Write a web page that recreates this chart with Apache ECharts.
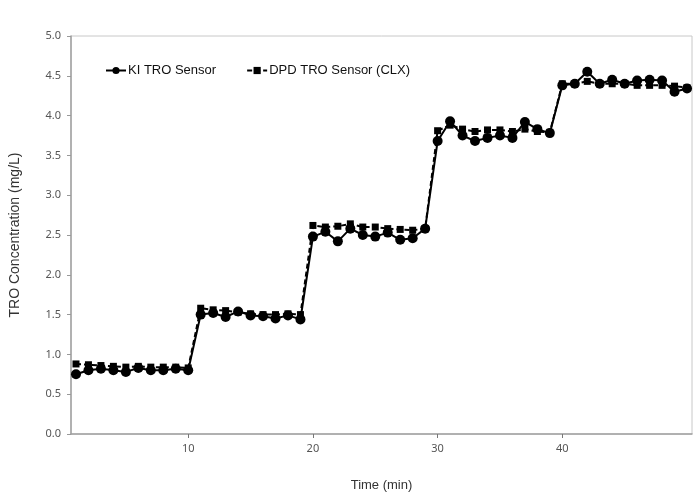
<!DOCTYPE html>
<html>
<head>
<meta charset="utf-8">
<script src="https://cdn.jsdelivr.net/npm/echarts@6/dist/echarts.min.js"></script>
<style>
  html, body { margin: 0; padding: 0; background: #fff; }
  #chart { width: 698px; height: 493px; }
</style>
</head>
<body>
<div id="chart"></div>
<script>
// 시간 (min)
var times = [1, 2, 3, 4, 5, 6, 7, 8, 9, 10,
  11, 12, 13, 14, 15, 16, 17, 18, 19,
  20, 21, 22, 23, 24, 25, 26, 27, 28, 29,
  30, 31, 32, 33, 34, 35, 36, 37, 38, 39,
  40, 41, 42, 43, 44, 45, 46, 47, 48, 49, 50]

// KI TRO Sensor
var kiValues = [0.75, 0.80, 0.82, 0.80, 0.78, 0.83, 0.80, 0.80, 0.82, 0.80,
  1.50, 1.52, 1.47, 1.54, 1.49, 1.48, 1.45, 1.49, 1.44,
  2.48, 2.54, 2.42, 2.58, 2.50, 2.48, 2.53, 2.44, 2.46, 2.58,
  3.68, 3.93, 3.75, 3.68, 3.72, 3.75, 3.72, 3.92, 3.83, 3.78,
  4.38, 4.40, 4.55, 4.40, 4.45, 4.40, 4.44, 4.45, 4.44, 4.30, 4.34]

// DPD TRO Sensor (CLX)
var dpdValues = [0.88, 0.87, 0.86, 0.85, 0.84, 0.85, 0.84, 0.84, 0.84, 0.83,
  1.58, 1.56, 1.55, 1.53, 1.51, 1.50, 1.50, 1.51, 1.50,
  2.62, 2.60, 2.61, 2.64, 2.60, 2.60, 2.58, 2.57, 2.56, 2.58,
  3.81, 3.88, 3.83, 3.80, 3.82, 3.82, 3.80, 3.83, 3.80, 3.79,
  4.40, 4.40, 4.43, 4.40, 4.40, 4.40, 4.38, 4.38, 4.38, 4.37, 4.35]

var xTicks = [10, 20, 30, 40]

function pairs(vals) {
  var out = []
  for (var i = 0; i < vals.length; i++) {
    out.push([times[i], vals[i]])
  }
  return out
}

var myChart = echarts.init(document.getElementById('chart'))
var labelFont = { color: '#555', fontSize: 11, fontFamily: 'Noto Sans' }

var option = {
  animation: false,
  grid: {
    left: 71, right: 6, top: 36, bottom: 59,
    outerBoundsMode: 'none',
    show: true, borderColor: '#c8c8c8', borderWidth: 1
  },
  legend: {
    left: 100, top: 59,
    itemWidth: 20, itemHeight: 9, itemGap: 30,
    textStyle: { color: '#111', fontSize: 13, fontFamily: 'Liberation Sans', padding: [0, 0, 0, -3] },
    data: ['KI TRO Sensor', 'DPD TRO Sensor (CLX)']
  },
  xAxis: {
    type: 'value',
    min: 0.6,
    max: 50.4,
    name: 'Time (min)',
    nameLocation: 'middle',
    nameGap: 45,
    nameTextStyle: { color: '#333', fontSize: 13, fontFamily: 'Liberation Sans' },
    axisLine: { lineStyle: { color: '#a0a0a0', width: 1.5 } },
    axisTick: { customValues: xTicks, length: 4, lineStyle: { color: '#777' } },
    axisLabel: Object.assign({ customValues: xTicks, margin: 9 }, labelFont),
    splitLine: { show: false }
  },
  yAxis: {
    type: 'value',
    min: 0,
    max: 5,
    interval: 0.5,
    name: 'TRO Concentration (mg/L)',
    nameLocation: 'middle',
    nameGap: 49,
    nameTextStyle: { color: '#333', fontSize: 14, fontFamily: 'Liberation Sans' },
    axisLine: { show: true, lineStyle: { color: '#a0a0a0', width: 1.5 } },
    axisTick: { show: true, length: 4, lineStyle: { color: '#999' } },
    axisLabel: Object.assign({
      margin: 10,
      formatter: function (v) { return v.toFixed(1) }
    }, labelFont),
    splitLine: { show: false }
  },
  series: [
    {
      name: 'KI TRO Sensor',
      type: 'line',
      data: pairs(kiValues),
      symbol: 'circle',
      symbolSize: 10,
      itemStyle: { color: '#000' },
      lineStyle: { color: '#000', width: 2 }
    },
    {
      name: 'DPD TRO Sensor (CLX)',
      type: 'line',
      data: pairs(dpdValues),
      symbol: 'rect',
      symbolSize: 7,
      itemStyle: { color: '#000' },
      lineStyle: { color: '#000', width: 2, type: [5, 3] }
    }
  ]
}

myChart.setOption(option)
</script>
</body>
</html>
